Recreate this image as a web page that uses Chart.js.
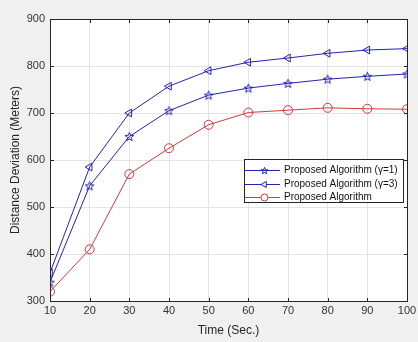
<html>
<head>
<meta charset="utf-8">
<script src="https://cdn.jsdelivr.net/npm/chart.js@4.4.1/dist/chart.umd.min.js"></script>
<style>
 body{margin:0;background:#f0f0f0;}
 #wrap{width:418px;height:342px;}
</style>
</head>
<body>
<div id="wrap"><canvas id="chart1" width="418" height="342"></canvas></div>
<script>
// data
var timeSec = [10, 20, 30, 40, 50, 60, 70, 80, 90, 100];
var gamma1 = [340, 545, 650, 705, 738, 753, 763, 772, 778, 783];
var gamma3 = [360, 585, 700, 757, 790, 808, 817, 827, 834, 837];
var proposed = [320, 410, 570, 625, 675, 701, 706, 711, 709, 708];
var seriesNames = ["Proposed Algorithm (\u03b3=1)", "Proposed Algorithm (\u03b3=3)", "Proposed Algorithm"];

var blue = "#2424b4";
var red = "#d23a3a";
var font = "'Liberation Sans', Arial, sans-serif";

// pentagram marker, like matlab 'p'
function makeStar(col, size, ro) {
  var c = document.createElement("canvas");
  c.width = size; c.height = size;
  var g = c.getContext("2d");
  g.strokeStyle = col; g.lineWidth = 1;
  g.beginPath();
  for (var i = 0; i < 10; i++) {
    var r = (i % 2 == 0) ? ro : ro * 0.42;
    var a = -Math.PI / 2 + i * Math.PI / 5;
    var px = size / 2 + r * Math.cos(a), py = size / 2 + 0.4 + r * Math.sin(a);
    if (i == 0) g.moveTo(px, py); else g.lineTo(px, py);
  }
  g.closePath(); g.stroke();
  return c;
}
var starImg = makeStar(blue, 11, 4.6);
var starSmall = makeStar(blue, 9, 3.6);

function pts(arr) {
  return arr.map(function (v, i) { return {x: timeSec[i], y: v}; });
}

var styles = [
  {color: blue, pointStyle: starImg, legendStyle: starSmall, rot: 0, r: 4},
  {color: blue, pointStyle: "triangle", legendStyle: "triangle", rot: -90, r: 4.5},
  {color: red, pointStyle: "circle", legendStyle: "circle", rot: 0, r: 4.5}
];
var allData = [gamma1, gamma3, proposed];

var datasets = allData.map(function (d, i) {
  return {
    label: seriesNames[i],
    data: pts(d),
    borderColor: styles[i].color,
    backgroundColor: "rgba(0,0,0,0)",
    borderWidth: 1,
    pointStyle: styles[i].pointStyle,
    pointRotation: styles[i].rot,
    pointRadius: styles[i].r,
    pointBorderColor: styles[i].color,
    pointBackgroundColor: "rgba(0,0,0,0)",
    pointBorderWidth: 1,
    tension: 0
  };
});

// white plot bg + box with inward ticks + legend inside the axes
var boxPlugin = {
  id: "boxPlugin",
  beforeDraw: function (chart) {
    var ctx = chart.ctx, a = chart.chartArea;
    ctx.save();
    ctx.fillStyle = "#f0f0f0";
    ctx.fillRect(0, 0, chart.width, chart.height);
    ctx.fillStyle = "#ffffff";
    ctx.fillRect(a.left, a.top, a.right - a.left, a.bottom - a.top);
    ctx.restore();
  },
  afterDraw: function (chart) {
    var ctx = chart.ctx, a = chart.chartArea;
    var L = Math.round(a.left) + 0.5, R = Math.round(a.right) + 0.5;
    var T = Math.round(a.top) + 0.5, B = Math.round(a.bottom) + 0.5;
    ctx.save();
    ctx.strokeStyle = "#262626";
    ctx.lineWidth = 1;
    ctx.strokeRect(L, T, R - L, B - T);
    ctx.beginPath();
    chart.scales.x.ticks.forEach(function (t) {
      var px = Math.round(chart.scales.x.getPixelForValue(t.value)) + 0.5;
      ctx.moveTo(px, B); ctx.lineTo(px, B - 3.5);
      ctx.moveTo(px, T); ctx.lineTo(px, T + 3.5);
    });
    chart.scales.y.ticks.forEach(function (t) {
      var py = Math.round(chart.scales.y.getPixelForValue(t.value)) + 0.5;
      ctx.moveTo(L, py); ctx.lineTo(L + 3.5, py);
      ctx.moveTo(R, py); ctx.lineTo(R - 3.5, py);
    });
    ctx.stroke();
    // legend
    var lx = 244, ly = 159, lw = 159, lh = 43;
    ctx.fillStyle = "#ffffff";
    ctx.fillRect(lx, ly, lw, lh);
    ctx.strokeStyle = "#262626";
    ctx.strokeRect(lx + 0.5, ly + 0.5, lw, lh);
    ctx.font = "10px " + font;
    ctx.textBaseline = "middle";
    for (var i = 0; i < seriesNames.length; i++) {
      var y = ly + 11 + i * 13.5;
      ctx.strokeStyle = styles[i].color;
      ctx.beginPath(); ctx.moveTo(245, Math.round(y) + 0.5); ctx.lineTo(280, Math.round(y) + 0.5); ctx.stroke();
      ctx.fillStyle = "#ffffff";
      Chart.helpers.drawPoint(ctx, {pointStyle: styles[i].legendStyle, rotation: styles[i].rot, radius: 3.5, borderWidth: 1}, 264.5, Math.round(y) + 0.5);
      ctx.fillStyle = "#111111";
      ctx.fillText(seriesNames[i], 284, y + 0.5);
    }
    ctx.restore();
  }
};

new Chart(document.getElementById("chart1"), {
  type: "line",
  data: {datasets: datasets},
  plugins: [boxPlugin],
  options: {
    responsive: false,
    animation: false,
    layout: {padding: {left: 0, top: 19, right: 11, bottom: 0}},
    plugins: {legend: {display: false}, tooltip: {enabled: false}},
    scales: {
      x: {
        type: "linear", min: 10, max: 100,
        afterFit: function (s) { s.height = 41; s.paddingRight = 0; s.paddingLeft = 0; },
        ticks: {stepSize: 10, color: "#333333", font: {family: font, size: 11}, padding: 3},
        grid: {color: "#e4e4e4", drawTicks: false},
        border: {display: false},
        title: {display: true, text: "Time (Sec.)", color: "#262626", font: {family: font, size: 12}, padding: {top: 2}}
      },
      y: {
        min: 300, max: 900,
        afterFit: function (s) { s.width = 50; s.paddingTop = 0; s.paddingBottom = 0; },
        ticks: {stepSize: 100, color: "#333333", font: {family: font, size: 11}, padding: 5},
        grid: {color: "#e4e4e4", drawTicks: false},
        border: {display: false},
        title: {display: true, text: "Distance Deviation (Meters)", color: "#262626", font: {family: font, size: 12}, padding: {top: 8, bottom: 0}}
      }
    }
  }
});
</script>
</body>
</html>
